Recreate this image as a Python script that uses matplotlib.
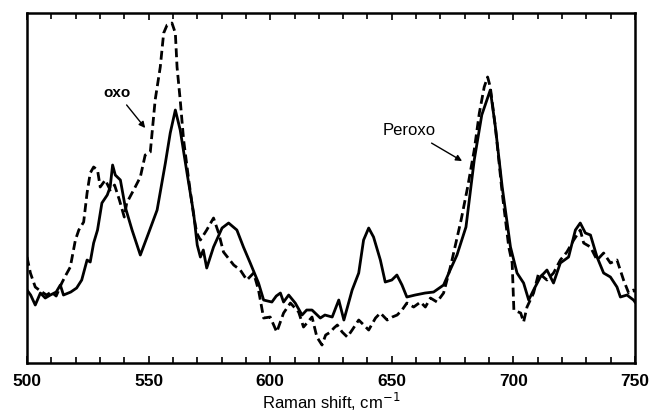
import matplotlib.pyplot as plt
from matplotlib.ticker import MultipleLocator

# Raman shift (cm-1) and intensity (arb. units)
solid_x = [500, 501.5, 503.4, 505.5, 507.5, 509.6, 512, 513.7, 515, 518,
           520.4, 522.5, 524.7, 526, 527.4, 529, 530.8, 533, 534.2, 535.2,
           536.3, 538.4, 540.4, 543.2, 546.6, 550, 553.5, 556.9, 558.9, 561,
           563, 565.8, 568.5, 570, 571.3, 572.5, 573.9, 576.7, 580.2, 582.9,
           586.3, 589, 591.8, 595.2, 597.3, 600.7, 602.5, 604.2, 605.5, 607.6,
           610.3, 613.1, 615, 617.2, 620.6, 622.5, 625.5, 628.2, 630.3, 633.7,
           636.4, 638.4, 640.5, 642.5, 645.3, 647.3, 650, 652.1, 654.2, 656.2,
           659.6, 663.7, 667.2, 671.3, 674, 676.8, 680.5, 683.9, 687, 690.5,
           692.6, 695.4, 698.8, 701.5, 704.2, 706.3, 708.3, 711.1, 713.8, 716.5,
           719.3, 722.7, 725.5, 727.5, 729.6, 731.7, 734.4, 737.1, 739.9, 742.6,
           744, 746.7, 749.4, 750]
solid_y = [73, 68, 58, 70, 65, 68, 71, 78, 68, 71,
           75, 83, 103, 101, 120, 133, 160, 168, 176, 198,
           188, 183, 156, 133, 108, 130, 153, 200, 230, 253,
           233, 190, 150, 118, 106, 113, 95, 116, 135, 140,
           133, 116, 100, 80, 63, 61, 67, 70, 61, 68,
           60, 48, 53, 53, 45, 48, 46, 63, 43, 73,
           90, 123, 135, 126, 103, 81, 83, 88, 78, 66,
           68, 70, 71, 78, 93, 108, 136, 203, 248, 273,
           236, 176, 116, 90, 80, 63, 73, 86, 93, 80,
           100, 106, 133, 140, 130, 128, 106, 90, 86, 76,
           66, 68, 63, 61]

dashed_x = [500, 501.4, 503.4, 505, 508, 510, 512, 514.3, 516, 517.8,
            519.9, 521.3, 523.3, 524.7, 526, 527.4, 529, 530.1, 532.2, 534.2,
            536, 538, 540, 541, 544.5, 546.6, 548.6, 550.7, 552.7, 554.8,
            556.2, 557.6, 559.6, 561, 561.7, 563, 564.4, 566.5, 568.5, 569.8,
            571.3, 573.9, 576.7, 578.8, 580.8, 585, 587.7, 590.4, 593.2, 595.2,
            597.3, 600, 602.7, 605.5, 608.3, 611.7, 613.7, 617.2, 619.2, 621.3,
            622.8, 624.8, 626.2, 627.6, 629.6, 631.7, 633.7, 636.4, 638.5, 640.5,
            643.3, 645.3, 648.1, 650.2, 652.2, 654.2, 656.2, 659, 661.8, 663.8,
            665.9, 668.6, 671.3, 674.3, 678.5, 681.2, 683.9, 686, 688, 689.4,
            690.5, 692.6, 695.4, 698.1, 699.5, 700.2, 703, 704.2, 705.6, 708.3,
            710.4, 713.8, 716.5, 719.3, 722, 724.8, 727.5, 728.9, 731.7, 734.4,
            737.1, 739.9, 742.6, 745.3, 747.4, 749.4, 750]
dashed_y = [106, 90, 76, 73, 68, 71, 67, 80, 88, 96,
            123, 133, 141, 170, 190, 196, 193, 176, 183, 173,
            178, 163, 146, 160, 176, 186, 208, 211, 263, 296,
            330, 338, 340, 330, 296, 263, 223, 183, 148, 130,
            123, 133, 145, 130, 111, 98, 93, 83, 90, 73,
            45, 46, 31, 50, 60, 51, 36, 46, 26, 18,
            28, 31, 35, 38, 31, 26, 33, 43, 38, 33,
            45, 50, 43, 46, 48, 53, 60, 56, 61, 56,
            65, 61, 70, 98, 143, 176, 213, 250, 276, 286,
            276, 236, 170, 116, 100, 53, 50, 41, 56, 70,
            90, 83, 90, 103, 111, 123, 133, 120, 116, 103,
            110, 100, 103, 83, 70, 73, 71]

plt.rcParams['font.family'] = ['Liberation Sans', 'DejaVu Sans']

fig = plt.figure(figsize=(6.49, 4.13), dpi=100)
ax = fig.add_axes([0.0416, 0.121, 0.9368, 0.8475])

ax.plot(solid_x, solid_y, color='black', lw=2.0, solid_joinstyle='round')
ax.plot(dashed_x, dashed_y, color='black', lw=2.0, dashes=(3.2, 1.6))

ax.annotate('oxo', xy=(548.6, 235), xytext=(537, 270), ha='center', va='center',
            fontsize=11, fontweight='bold',
            arrowprops=dict(arrowstyle='-|>', color='black', lw=1.0,
                            mutation_scale=9, shrinkA=2, shrinkB=0))
ax.annotate('Peroxo', xy=(678.9, 202), xytext=(657.2, 233), ha='center', va='center',
            fontsize=12,
            arrowprops=dict(arrowstyle='-|>', color='black', lw=1.0,
                            mutation_scale=9, shrinkA=4, shrinkB=0))

ax.set_xlim(500, 750)
ax.set_ylim(0, 350)
ax.xaxis.set_major_locator(MultipleLocator(50))
ax.xaxis.set_minor_locator(MultipleLocator(10))
ax.tick_params(axis='x', which='both', direction='in', top=True, width=1.2, labelsize=12.5, pad=8)
ax.tick_params(axis='x', which='major', length=5)
ax.tick_params(axis='x', which='minor', length=4)
for lab in ax.get_xticklabels():
    lab.set_fontweight('bold')
ax.set_yticks([])
for s in ax.spines.values():
    s.set_linewidth(1.8)

ax.set_xlabel('Raman shift, cm$^{-1}$', fontsize=12, labelpad=1)

fig.savefig('out.png', dpi=100)
